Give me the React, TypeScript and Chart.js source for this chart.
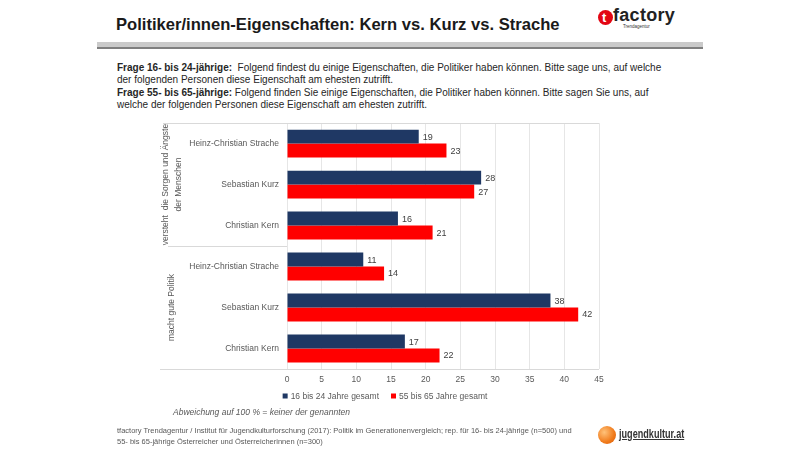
import React, { useEffect, useRef } from "react";
import { Chart, registerables } from "chart.js";

Chart.register(...registerables);

const categories = [
  "Heinz-Christian Strache",
  "Sebastian Kurz",
  "Christian Kern",
  "Heinz-Christian Strache",
  "Sebastian Kurz",
  "Christian Kern",
];
const groupLabels = [["versteht  die Sorgen und Ängste", "der Menschen"], ["macht gute Politik"]];
const seriesNames = ["16 bis 24 Jahre gesamt", "55 bis 65 Jahre gesamt"];
const young = [19, 28, 16, 11, 38, 17];
const old = [23, 27, 21, 14, 42, 22];
const xMax = 45;
const xStep = 5;

const NAVY = "#1f3864";
const RED = "#ff0000";
const FONT = "'Liberation Sans', Arial, sans-serif";

const decorPlugin = {
  id: "decor",
  beforeDatasetsDraw(chart: any) {
    const { ctx, chartArea, scales } = chart;
    const y = scales.y;
    ctx.save();
    ctx.strokeStyle = "#d9d9d9";
    ctx.lineWidth = 1;
    const top = Math.round(chartArea.top) + 0.5;
    const bottom = Math.round(chartArea.bottom) + 0.5;
    ctx.beginPath();
    ctx.moveTo(13, top);
    ctx.lineTo(chartArea.right, top);
    ctx.moveTo(10, bottom);
    ctx.lineTo(chartArea.right, bottom);
    for (let g = 1; g < groupLabels.length; g++) {
      const sy = Math.round((y.getPixelForValue(g * 3 - 1) + y.getPixelForValue(g * 3)) / 2) + 0.5;
      ctx.moveTo(18, sy);
      ctx.lineTo(chartArea.left, sy);
    }
    ctx.stroke();
    ctx.restore();
  },
  afterDraw(chart: any) {
    const { ctx, chartArea, scales } = chart;
    const y = scales.y;
    ctx.save();
    // group labels
    ctx.fillStyle = "#595959";
    ctx.font = `8.5px ${FONT}`;
    ctx.textAlign = "center";
    ctx.textBaseline = "middle";
    groupLabels.forEach((lines, g) => {
      const cy = y.getPixelForValue(g * 3 + 1);
      const lh = 13;
      const cx = 22;
      ctx.save();
      ctx.translate(cx, cy);
      ctx.rotate(-Math.PI / 2);
      lines.forEach((ln, i) => {
        const off = (i - (lines.length - 1) / 2) * lh;
        ctx.fillText(ln, 0, off);
      });
      ctx.restore();
    });
    // data labels
    ctx.fillStyle = "#404040";
    ctx.font = `9px ${FONT}`;
    ctx.textAlign = "left";
    ctx.textBaseline = "middle";
    chart.data.datasets.forEach((ds: any, di: number) => {
      const meta = chart.getDatasetMeta(di);
      meta.data.forEach((bar: any, i: number) => {
        ctx.fillText(String(ds.data[i]), bar.x + 4, bar.y + 0.5);
      });
    });
    // legend
    ctx.font = `8.5px ${FONT}`;
    ctx.fillStyle = "#595959";
    const ly = chartArea.bottom + 27;
    const box = 5;
    const gapBox = 3;
    const gapItem = 12;
    const widths = chart.data.datasets.map((ds: any) => box + gapBox + ctx.measureText(ds.label).width);
    const total = widths.reduce((a: number, b: number) => a + b, 0) + gapItem * (widths.length - 1);
    let lx = 235 - total / 2;
    chart.data.datasets.forEach((ds: any, di: number) => {
      ctx.fillStyle = ds.backgroundColor;
      ctx.fillRect(lx, ly - box / 2, box, box);
      ctx.fillStyle = "#595959";
      ctx.fillText(ds.label, lx + box + gapBox, ly + 0.5);
      lx += widths[di] + gapItem;
    });
    ctx.restore();
  },
};

function ChartBox() {
  const ref = useRef<HTMLCanvasElement>(null);
  useEffect(() => {
    if (!ref.current) return;
    const chart = new Chart(ref.current, {
      type: "bar",
      data: {
        labels: categories,
        datasets: [
          { label: seriesNames[0], data: young, backgroundColor: NAVY, categoryPercentage: 0.68, barPercentage: 1 },
          { label: seriesNames[1], data: old, backgroundColor: RED, categoryPercentage: 0.68, barPercentage: 1 },
        ],
      },
      options: {
        indexAxis: "y",
        animation: false,
        responsive: false,
        maintainAspectRatio: false,
        layout: { padding: { top: 8, left: 0, right: 21, bottom: 0 } },
        plugins: { legend: { display: false }, tooltip: { enabled: false } },
        scales: {
          y: {
            type: "category",
            grid: { display: false, drawTicks: false },
            border: { display: false },
            ticks: { color: "#595959", font: { size: 8.5, family: FONT }, padding: 8 },
            afterFit: (s: any) => {
              s.width = 137;
            },
          },
          x: {
            min: 0,
            max: xMax,
            grid: { color: "#e6e6e6", drawTicks: false },
            border: { display: false },
            ticks: { stepSize: xStep, color: "#595959", font: { size: 8.5, family: FONT }, padding: 6 },
            afterFit: (s: any) => {
              s.height = 41;
            },
          },
        },
      },
      plugins: [decorPlugin],
    });
    return () => chart.destroy();
  }, []);
  return <canvas ref={ref} width={470} height={300} style={{ position: "absolute", left: 150, top: 110, width: 470, height: 300 }} />;
}

const abs = (o: React.CSSProperties): React.CSSProperties => ({ position: "absolute", whiteSpace: "nowrap", fontFamily: FONT, ...o });

export default function App() {
  return (
    <div style={{ position: "absolute", left: 0, top: 0, width: 800, height: 452, background: "#fff", overflow: "hidden" }}>
      <div style={abs({ left: 116, top: 16, fontSize: 16.6, lineHeight: "17px", fontWeight: "bold", color: "#1a1a1a" })}>
        Politiker/innen-Eigenschaften: Kern vs. Kurz vs. Strache
      </div>
      {/* tfactory logo */}
      <div style={abs({ left: 598, top: 10, width: 15, height: 15, borderRadius: "50%", background: "#e30613" })} />
      <div style={abs({ left: 602, top: 9, fontSize: 13, lineHeight: "17px", fontWeight: "bold", color: "#fff" })}>t</div>
      <div style={abs({ left: 613, top: 6, fontSize: 18, lineHeight: "18px", fontWeight: "bold", color: "#222", letterSpacing: 0.3 })}>factory</div>
      <div style={abs({ left: 623, top: 24, fontSize: 4.5, lineHeight: "5px", color: "#333" })}>Trendagentur</div>
      {/* header bar */}
      <div style={abs({ left: 97, top: 42, width: 606, height: 5, background: "#cacaca" })} />
      <div style={abs({ left: 97, top: 47, width: 606, height: 2, background: "#7f7f7f" })} />
      {/* question text */}
      <div style={abs({ left: 117, top: 62, fontSize: 10, lineHeight: "12px", color: "#262626" })}>
        <b>Frage 16- bis 24-jährige:</b>&nbsp; Folgend findest du einige Eigenschaften, die Politiker haben können. Bitte sage uns, auf welche
      </div>
      <div style={abs({ left: 117, top: 73.5, fontSize: 10, lineHeight: "12px", color: "#262626" })}>
        der folgenden Personen diese Eigenschaft am ehesten zutrifft.
      </div>
      <div style={abs({ left: 117, top: 87, fontSize: 10, lineHeight: "12px", color: "#262626" })}>
        <b>Frage 55- bis 65-jährige:</b> Folgend finden Sie einige Eigenschaften, die Politiker haben können. Bitte sagen Sie uns, auf
      </div>
      <div style={abs({ left: 117, top: 99, fontSize: 10, lineHeight: "12px", color: "#262626" })}>
        welche der folgenden Personen diese Eigenschaft am ehesten zutrifft.
      </div>
      <ChartBox />
      <div style={abs({ left: 173, top: 407, fontSize: 8.5, lineHeight: "11px", fontStyle: "italic", color: "#595959" })}>
        Abweichung auf 100 % = keiner der genannten
      </div>
      <div style={abs({ left: 117, top: 426, fontSize: 7.5, lineHeight: "10.5px", color: "#595959" })}>
        tfactory Trendagentur / Institut für Jugendkulturforschung (2017): Politik im Generationenvergleich; rep. für 16- bis 24-jährige (n=500) und
        <br />
        55- bis 65-jährige Österreicher und Österreicherinnen (n=300)
      </div>
      {/* jugendkultur.at logo */}
      <div
        style={abs({
          left: 598,
          top: 426,
          width: 18,
          height: 18,
          borderRadius: "50%",
          background: "radial-gradient(circle at 35% 35%, #ffc27a, #f07a1a 60%, #d85a0a)",
        })}
      />
      <div
        style={abs({
          left: 619,
          top: 427,
          fontSize: 13,
          lineHeight: "14px",
          fontWeight: "bold",
          color: "#333",
          textDecoration: "underline",
          transform: "scaleX(0.7)",
          transformOrigin: "left top",
        })}
      >
        jugendkultur.at
      </div>
    </div>
  );
}
